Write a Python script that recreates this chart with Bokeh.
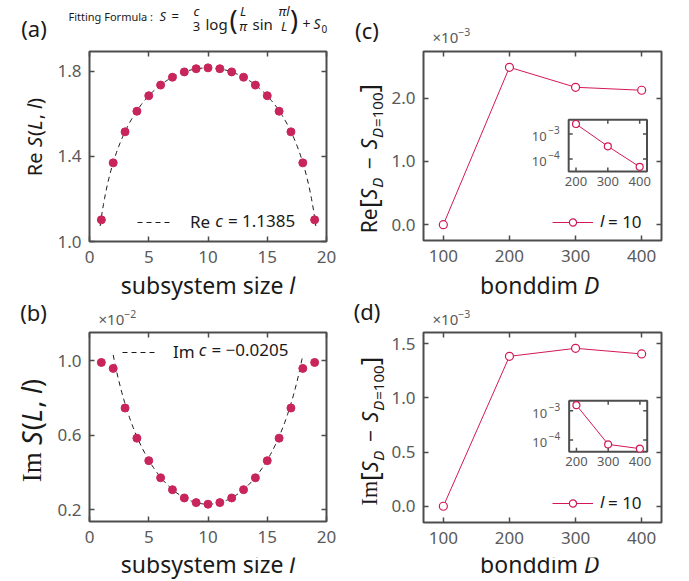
import numpy as np
from bokeh.plotting import figure
from bokeh.layouts import row, column
from bokeh.models import (Range1d, FixedTicker, LinearAxis, CustomJSTickFormatter,
                          PrintfTickFormatter, Label, Legend, LegendItem)
from bokeh.core.properties import value
from bokeh.embed import file_html
from bokeh.resources import INLINE

# ---------------- data ----------------
l_sites = [1, 2, 3, 4, 5, 6, 7, 8, 9, 10, 11, 12, 13, 14, 15, 16, 17, 18, 19]
re_S = [1.102, 1.370, 1.516, 1.613, 1.686, 1.736, 1.773, 1.798, 1.813, 1.817,
        1.813, 1.798, 1.773, 1.736, 1.686, 1.613, 1.516, 1.370, 1.102]
im_S_e2 = [0.991, 0.959, 0.746, 0.584, 0.463, 0.371, 0.307, 0.2625, 0.2375, 0.229,
           0.2375, 0.2625, 0.307, 0.371, 0.463, 0.584, 0.746, 0.959, 0.991]   # x 1e-2
L_sys = 20
c_re, S0_re = 1.1385, 1.1145
c_im, S0_im = -0.0205, 0.01494
fit_re_span = (0.9, 19.1)
fit_im_span = (2.0, 18.0)

bond_dims = [100, 200, 300, 400]
re_dS_e3 = [0.0, 2.49, 2.174, 2.127]     # x 1e-3
im_dS_e3 = [0.0, 1.385, 1.459, 1.407]    # x 1e-3
inset_D = [200, 300, 400]
re_inset = [2.5e-3, 3.2e-4, 4.8e-5]
im_inset = [1.55e-3, 7.0e-5, 5.0e-5]

lx_ticks = [0, 5, 10, 15, 20]
D_ticks = [100, 200, 300, 400]
inset_x_ticks = [200, 300, 400]
inset_y_exps = [-3, -4]

# fitted curves of the stated formula S = c/3 log(L/pi sin(pi l/L)) + S0
l_fit_re = np.linspace(*fit_re_span, 200)
fit_re = c_re / 3 * np.log(L_sys / np.pi * np.sin(np.pi * l_fit_re / L_sys)) + S0_re
l_fit_im = np.linspace(*fit_im_span, 200)
fit_im_e2 = 100 * (c_im / 3 * np.log(L_sys / np.pi * np.sin(np.pi * l_fit_im / L_sys)) + S0_im)

# ---------------- styles ----------------
FONT = "Noto Sans"
SERIF = "Liberation Serif"
INK = "#1a1a1a"
TICK = "#5a5a5a"
FRAME = "#4d4d4d"
DOT = "#C8255B"
LINE = "#D3175A"
BASE_FIX = 0.40   # em: Label's alphabetic anchor sits this far above the drawn baseline

SANS_W = {' ': .26, 'R': .637, 'e': .564, 'S': .549, 'L': .531, 'l': .258, '(': .303, ')': .303,
          ',': .25, '[': .332, ']': .332, 'D': .729, '−': .572, '=': .572, '×': .572, '+': .572,
          'm': .936, 's': .479, 'u': .618, 'b': .615, 'y': .5, 't': .361, 'i': .258, 'z': .47,
          'o': .605, 'n': .618, 'd': .615, 'g': .615, 'π': .62, 'c': .48, 'I': .294, '.': .266}
SERIF_W = {'I': .333, 'm': .778, ' ': .25}


def text_w(s, size, serif=False):
    tbl = SERIF_W if serif else SANS_W
    return sum(tbl.get(ch, .572) for ch in s) * size


def rich_label(p, origin, pieces, px, py, size, angle=0.0, anchor="center", color=INK,
               baseline="alphabetic"):
    """Place a run of text pieces. px, py are page pixels; origin = page position of the
    figure frame's bottom-left corner. pieces: (text, style, scale, shift_em, serif)."""
    x, y = px - origin[0], origin[1] - py
    full = []
    for pc in pieces:
        full.append((pc[0], pc[1] if len(pc) > 1 else "normal", pc[2] if len(pc) > 2 else 1.0,
                     pc[3] if len(pc) > 3 else 0.0, pc[4] if len(pc) > 4 else False))
    ws = [text_w(t, size * sc, sf) for t, st, sc, sh, sf in full]
    total = sum(ws)
    pos = {"left": 0.0, "center": -total / 2, "right": -total}[anchor]
    for (t, st, sc, sh, sf), w in zip(full, ws):
        if t.strip():
            up = sh * size + (BASE_FIX * size * sc if baseline == "alphabetic" else 0.0)
            if angle == 0:
                lx, ly = x + pos, y + up
            else:
                lx, ly = x - up, y + pos
            p.add_layout(Label(x=lx, y=ly, x_units="screen", y_units="screen", text=t.strip(),
                               angle=angle, text_font=SERIF if sf else FONT, text_font_style=st,
                               text_font_size=f"{size * sc:.1f}px", text_color=color,
                               text_align="left", text_baseline=baseline))
        pos += w


def plain_label(p, origin, px, py, text, size, style="normal", align="left",
                baseline="alphabetic", color=INK):
    up = BASE_FIX * size if baseline == "alphabetic" else 0.0
    p.add_layout(Label(x=px - origin[0], y=origin[1] - py + up, x_units="screen", y_units="screen",
                       text=text, text_font=FONT, text_font_style=style,
                       text_font_size=f"{size}px", text_color=color, text_align=align,
                       text_baseline=baseline))


def style_axis(ax):
    ax.axis_line_color = None
    ax.major_tick_in = 5
    ax.major_tick_out = 0
    ax.major_tick_line_color = FRAME
    ax.major_tick_line_width = 1.5
    ax.minor_tick_line_color = None
    ax.major_label_text_font = FONT
    ax.major_label_text_font_size = "17px"
    ax.major_label_text_color = TICK
    ax.major_label_standoff = 8


def panel(xr, yr, fw, fh, bl, br, bt, bb, xticks, yticks, yfmt):
    p = figure(x_range=Range1d(*xr), y_range=Range1d(*yr), frame_width=fw, frame_height=fh,
               min_border_left=bl, min_border_right=br, min_border_top=bt, min_border_bottom=bb,
               title=None, output_backend="svg", toolbar_location=None, tools="")
    p.grid.visible = False
    p.outline_line_color = FRAME
    p.outline_line_width = 2
    p.outline_line_alpha = 1
    p.xaxis.ticker = FixedTicker(ticks=xticks)
    p.yaxis.ticker = FixedTicker(ticks=yticks)
    p.xaxis.formatter = PrintfTickFormatter(format="%d")
    p.yaxis.formatter = PrintfTickFormatter(format=yfmt)
    for ax in p.axis:
        style_axis(ax)
    p.xaxis.major_label_standoff = 9
    for loc, tk in (("above", xticks), ("right", yticks)):
        ax = LinearAxis(ticker=FixedTicker(ticks=tk), formatter=CustomJSTickFormatter(code="return ''"))
        style_axis(ax)
        ax.major_label_standoff = 0
        ax.major_label_text_font_size = "0px"
        p.add_layout(ax, loc)
    return p


def strip(w, h):
    p = figure(x_range=Range1d(0, w), y_range=Range1d(0, h), frame_width=w, frame_height=h,
               min_border=0, x_axis_type=None, y_axis_type=None, title=None,
               output_backend="svg", toolbar_location=None, tools="")
    p.outline_line_color = None
    return p


def legend(p, renderer, text, x, y, gw, standoff):
    lg = Legend(items=[LegendItem(label=text, renderers=renderer)], location=(x, y),
                border_line_color=None, background_fill_alpha=0, padding=0, margin=0,
                glyph_width=gw, glyph_height=18, label_height=18, label_standoff=int(standoff),
                label_text_font=FONT, label_text_font_size="17px", label_text_color=INK,
                spacing=0)
    p.add_layout(lg)


def inset(p, frac, xsrc, ysrc, xs, ys):
    """Inset drawn in a sub-coordinate system of p; y is log10 of the values."""
    xr, yr = p.x_range, p.y_range
    xt = Range1d(xr.start + frac[0] * (xr.end - xr.start), xr.start + frac[1] * (xr.end - xr.start))
    yt = Range1d(yr.start + frac[2] * (yr.end - yr.start), yr.start + frac[3] * (yr.end - yr.start))
    sub = p.subplot(x_source=Range1d(*xsrc), y_source=Range1d(*ysrc), x_target=xt, y_target=yt)
    sub.quad(left=[xsrc[0]], right=[xsrc[1]], bottom=[ysrc[0]], top=[ysrc[1]],
             fill_color="white", line_color=FRAME, line_width=2)
    yv = list(inset_y_exps)
    n = len(inset_x_ticks)
    tk = dict(length=4, length_units="screen", line_color=FRAME, line_width=1.5)
    sub.ray(x=inset_x_ticks, y=[ysrc[0]] * n, angle=np.pi / 2, **tk)
    sub.ray(x=inset_x_ticks, y=[ysrc[1]] * n, angle=-np.pi / 2, **tk)
    sub.ray(x=[xsrc[0]] * len(yv), y=yv, angle=0.0, **tk)
    sub.ray(x=[xsrc[1]] * len(yv), y=yv, angle=np.pi, **tk)
    sub.text(x=inset_x_ticks, y=[ysrc[0]] * n, text=[str(v) for v in inset_x_ticks],
             text_align="center", text_baseline="top", y_offset=5,
             text_font=value(FONT), text_font_size="13px", text_color=TICK)
    sub.text(x=[xsrc[0]] * len(yv), y=yv, text=["10"] * len(yv), text_align="right",
             text_baseline="middle", x_offset=-22, y_offset=3,
             text_font=value(FONT), text_font_size="13px", text_color=TICK)
    sub.text(x=[xsrc[0]] * len(yv), y=yv, text=[f"−{-e}" for e in inset_y_exps], text_align="right",
             text_baseline="middle", x_offset=-9, y_offset=-4,
             text_font=value(FONT), text_font_size="10px", text_color=TICK)
    ly = list(np.log10(ys))
    sub.line(xs, ly, line_color=LINE, line_width=1)
    sub.scatter(xs, ly, size=7, marker="circle", fill_color="white", line_color=LINE, line_width=1.2)


# ---------------- panels ----------------
pa = panel((0, 20), (1.0, 1.894), 237, 190, 36, 10, 4, 36, lx_ticks, [1.0, 1.4, 1.8], "%.1f")
pc = panel((70, 430), (-0.25, 2.74), 238, 189, 34, 29, 5, 36, D_ticks, [0.0, 1.0, 2.0], "%.1f")
pb = panel((0, 20), (0.136, 1.152), 237, 189, 36, 10, 4, 36, lx_ticks, [0.2, 0.6, 1.0], "%.1f")
pd = panel((70, 430), (-0.15, 1.605), 238, 190, 34, 29, 4, 35, D_ticks, [0.0, 0.5, 1.0, 1.5], "%.1f")
FA, FC, FB, FD = (89, 240), (422, 240), (89, 521), (422, 522)

# text strips around the panels (page pixel layout)
hdr1 = strip(689, 46);  O_H1 = (0, 46)
st_a = strip(53, 230);  O_A = (0, 276)
st_c = strip(52, 230);  O_C = (336, 276)
xl1 = strip(689, 26);   O_X1 = (0, 302)
hdr2 = strip(689, 26);  O_H2 = (0, 328)
st_b = strip(53, 229);  O_B = (0, 557)
st_d = strip(52, 229);  O_D = (336, 557)
xl2 = strip(689, 24);   O_X2 = (0, 581)

# (a)
ra = pa.line(l_fit_re, fit_re, line_dash="5 4", line_color=INK, line_width=1)
pa.scatter(l_sites, re_S, size=8, marker="circle", fill_color=DOT, line_color=DOT)
legend(pa, [ra], "Re", 137 - FA[0], FA[1] - 232, 36, 17)
rich_label(pa, FA, [("c", "italic"), (" ",), ("= 1.1385",)], 214.8, 218.5, 17, anchor="left",
           baseline="middle")

# (b)
rb = pb.line(l_fit_im, fit_im_e2, line_dash="5 4", line_color=INK, line_width=1)
pb.scatter(l_sites, im_S_e2, size=8, marker="circle", fill_color=DOT, line_color=DOT)
legend(pb, [rb], "Im", 122 - FB[0], FB[1] - 363, 36, 15)
rich_label(pb, FB, [("c", "italic"), (" ",), ("= −0.0205",)], 198.3, 349.2, 17, anchor="left",
           baseline="middle")

# (c)
lc = pc.line(bond_dims, re_dS_e3, line_color=LINE, line_width=1)
sc = pc.scatter(bond_dims, re_dS_e3, size=8, marker="circle", fill_color="white", line_color=LINE,
                line_width=1.2)
legend(pc, [lc, sc], "= 10", 551 - FC[0], FC[1] - 233, 41, 15)
plain_label(pc, FC, 598.5, 219.5, "l", 17, style="italic", baseline="middle")
inset(pc, (0.610, 0.939, 0.3645, 0.639), (177, 423), (-4.51, -2.43), inset_D, re_inset)

# (d)
ld = pd.line(bond_dims, im_dS_e3, line_color=LINE, line_width=1)
sd = pd.scatter(bond_dims, im_dS_e3, size=8, marker="circle", fill_color="white", line_color=LINE,
                line_width=1.2)
legend(pd, [ld, sd], "= 10", 551 - FD[0], FD[1] - 514, 41, 15)
plain_label(pd, FD, 598.5, 500.8, "l", 17, style="italic", baseline="middle")
inset(pd, (0.612, 0.940, 0.372, 0.641), (177, 423), (-4.41, -2.655), inset_D, im_inset)

# ---------------- texts outside the frames ----------------
plain_label(hdr1, O_H1, 33.5, 36.5, "(a)", 22, align="center")
plain_label(hdr1, O_H1, 366.5, 38, "(c)", 22, align="center")
plain_label(hdr2, O_H2, 33, 320, "(b)", 22, align="center")
plain_label(hdr2, O_H2, 366.5, 319, "(d)", 22, align="center")

# exponent multipliers
rich_label(hdr1, O_H1, [("×10",), ("−3", "normal", 0.7, 0.42)], 432, 42, 15, anchor="left", color=TICK)
rich_label(hdr2, O_H2, [("×10",), ("−2", "normal", 0.7, 0.42)], 98, 324, 15, anchor="left", color=TICK)
rich_label(hdr2, O_H2, [("×10",), ("−3", "normal", 0.7, 0.42)], 432, 324, 15, anchor="left", color=TICK)

# y labels (rotated)
R90 = np.pi / 2
rich_label(st_a, O_A, [("Re",), (" ",), ("S", "italic"), ("(",), ("L", "italic"), (",",), (" ",),
                       ("l", "italic"), (")",)], 42, 131.5, 20, angle=R90)
rich_label(st_b, O_B, [("Im", "normal", 1.0, 0, True), (" ",), ("S", "italic"), ("(",),
                       ("L", "italic"), (",",), (" ",), ("l", "italic"), (")",)], 42, 426, 27, angle=R90)
sd_pieces = [("[", "normal", 1.25, -0.06), ("S", "italic"), ("D", "italic", .72, -.25), (" ", "normal", 1.4),
             ("−",), (" ", "normal", 1.4), ("S", "italic"), ("D", "italic", .72, -.25),
             ("=100", "normal", .72, -.25), ("]", "normal", 1.25, -0.06)]
rich_label(st_c, O_C, [("Re",)] + sd_pieces, 377, 153, 21, angle=R90)
rich_label(st_d, O_D, [("Im", "normal", 1.05, 0, True)] + sd_pieces, 378, 426.5, 21, angle=R90)

# x labels
rich_label(xl1, O_X1, [("subsystem size",), (" ",), ("l", "italic")], 207.5, 294, 23)
rich_label(xl1, O_X1, [("bonddim",), (" ",), ("D", "italic")], 540, 294, 23)
rich_label(xl2, O_X2, [("subsystem size",), (" ",), ("l", "italic")], 207.5, 573, 23)
rich_label(xl2, O_X2, [("bonddim",), (" ",), ("D", "italic")], 540, 573, 23)


# fitting formula
def fl(px, py, t, s, st="normal", al="left"):
    plain_label(hdr1, O_H1, px, py, t, s, style=st, align=al)


fl(68, 20.5, "Fitting Formula :", 11)
fl(159, 20.5, "S", 13, "italic")
fl(171, 20.5, "=", 13)
fl(196, 15.5, "c", 13, "italic", "center")
fl(196, 31, "3", 13, al="center")
fl(205, 29, "log", 15)
fl(229, 30, "(", 27)
fl(242.5, 15.5, "L", 13, "italic", "center")
fl(242.5, 30.5, "π", 13, "italic", "center")
fl(252, 29, "sin", 15)
fl(283.5, 15.5, "πl", 13, "italic", "center")
fl(283.5, 31, "L", 13, "italic", "center")
fl(289.5, 30, ")", 27)
fl(302, 29, "+", 14)
fl(313, 29, "S", 14, "italic")
fl(321, 32, "0", 10)

layout = column(hdr1, row(st_a, pa, st_c, pc), xl1, hdr2, row(st_b, pb, st_d, pd), xl2)
open("out.html", "w").write(file_html(layout, INLINE))
